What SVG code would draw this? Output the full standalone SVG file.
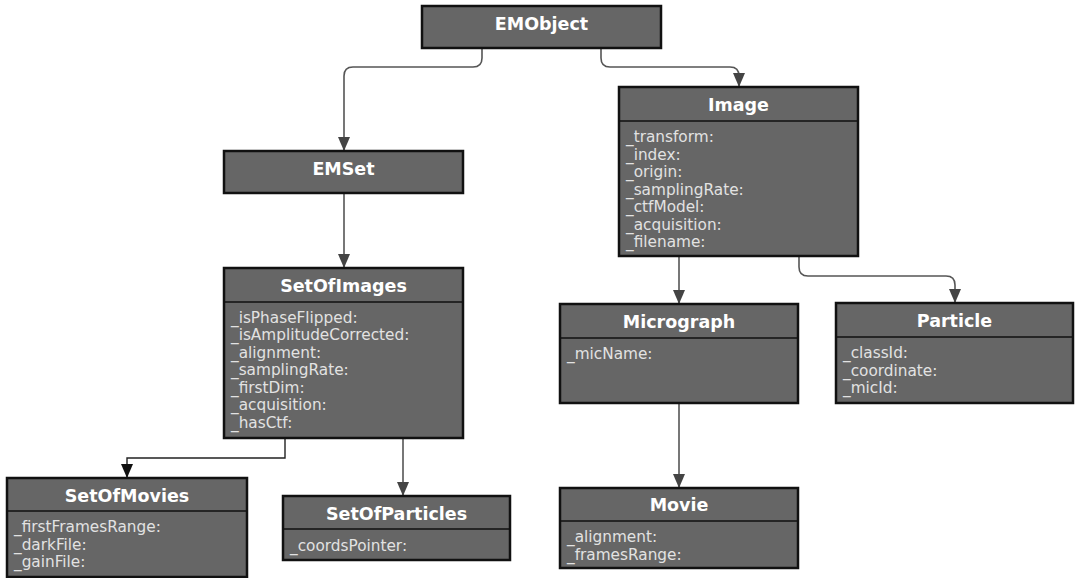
<svg xmlns="http://www.w3.org/2000/svg" width="1075" height="578" viewBox="0 0 1075 578">
<defs>
<marker id="arr" viewBox="0 0 14 12" refX="14" refY="6" markerWidth="14" markerHeight="12" markerUnits="userSpaceOnUse" orient="auto">
<path d="M0,0 L14,6 L0,12 Z" fill="#444"/>
</marker>
<marker id="arrk" viewBox="0 0 14 12" refX="14" refY="6" markerWidth="14" markerHeight="12" markerUnits="userSpaceOnUse" orient="auto">
<path d="M0,0 L14,6 L0,12 Z" fill="#111"/>
</marker>
<style>
.box{fill:#666;stroke:#111;stroke-width:2.5}
.div{stroke:#111;stroke-width:1.5}
.t{font-family:"DejaVu Sans",sans-serif;font-weight:bold;font-size:17.5px;fill:#fff;text-anchor:middle}
.a{font-family:"DejaVu Sans",sans-serif;font-size:15.3px;fill:#e2e2e2}
.c{fill:none;stroke:#555;stroke-width:1.6}
.ck{fill:none;stroke:#222;stroke-width:1.4}
</style>
</defs>
<rect width="1075" height="578" fill="#fff"/>
<g id="connectors">
<path class="c" d="M482,48 V58 Q482,67 473,67 H353 Q344,67 344,76 V151" marker-end="url(#arr)"/>
<path class="c" d="M601,48 V58 Q601,67 610,67 H730 Q739,67 739,76 V87" marker-end="url(#arr)"/>
<path class="c" d="M344,193 V268" marker-end="url(#arr)"/>
<path class="ck" d="M285,438 V458 H127 V478" marker-end="url(#arrk)"/>
<path class="c" d="M403,438 V496" marker-end="url(#arr)"/>
<path class="c" d="M679,256 V304" marker-end="url(#arr)"/>
<path class="c" d="M799,256 V267 Q799,276 808,276 H946 Q955,276 955,285 V303" marker-end="url(#arr)"/>
<path class="c" d="M679,403 V488" marker-end="url(#arr)"/>
</g>
<g id="EMObject">
<rect class="box" x="422" y="6" width="239" height="42"/>
<text class="t" x="541.5" y="30">EMObject</text>
</g>
<g id="Image">
<rect class="box" x="619" y="87" width="239" height="169"/>
<line class="div" x1="619" y1="121" x2="858" y2="121"/>
<text class="t" x="738.5" y="111">Image</text>
<text class="a" x="626" y="142">_transform:</text>
<text class="a" x="626" y="159.5">_index:</text>
<text class="a" x="626" y="177">_origin:</text>
<text class="a" x="626" y="194.5">_samplingRate:</text>
<text class="a" x="626" y="212">_ctfModel:</text>
<text class="a" x="626" y="229.5">_acquisition:</text>
<text class="a" x="626" y="247">_filename:</text>
</g>
<g id="EMSet">
<rect class="box" x="224" y="151" width="239" height="42"/>
<text class="t" x="343.5" y="175">EMSet</text>
</g>
<g id="SetOfImages">
<rect class="box" x="224" y="268" width="239" height="170"/>
<line class="div" x1="224" y1="302" x2="463" y2="302"/>
<text class="t" x="343.5" y="292">SetOfImages</text>
<text class="a" x="231" y="322.5">_isPhaseFlipped:</text>
<text class="a" x="231" y="340">_isAmplitudeCorrected:</text>
<text class="a" x="231" y="357.5">_alignment:</text>
<text class="a" x="231" y="375">_samplingRate:</text>
<text class="a" x="231" y="392.5">_firstDim:</text>
<text class="a" x="231" y="410">_acquisition:</text>
<text class="a" x="231" y="427.5">_hasCtf:</text>
</g>
<g id="SetOfMovies">
<rect class="box" x="7" y="478" width="240" height="99"/>
<line class="div" x1="7" y1="511" x2="247" y2="511"/>
<text class="t" x="127" y="502">SetOfMovies</text>
<text class="a" x="14" y="532">_firstFramesRange:</text>
<text class="a" x="14" y="549.5">_darkFile:</text>
<text class="a" x="14" y="567">_gainFile:</text>
</g>
<g id="SetOfParticles">
<rect class="box" x="283" y="496" width="227" height="64"/>
<line class="div" x1="283" y1="529" x2="510" y2="529"/>
<text class="t" x="396.5" y="520">SetOfParticles</text>
<text class="a" x="290" y="551">_coordsPointer:</text>
</g>
<g id="Micrograph">
<rect class="box" x="560" y="304" width="238" height="99"/>
<line class="div" x1="560" y1="338" x2="798" y2="338"/>
<text class="t" x="679" y="328">Micrograph</text>
<text class="a" x="567" y="359">_micName:</text>
</g>
<g id="Particle">
<rect class="box" x="836" y="303" width="237" height="100"/>
<line class="div" x1="836" y1="337" x2="1073" y2="337"/>
<text class="t" x="954.5" y="327">Particle</text>
<text class="a" x="843" y="358">_classId:</text>
<text class="a" x="843" y="375.5">_coordinate:</text>
<text class="a" x="843" y="393">_micId:</text>
</g>
<g id="Movie">
<rect class="box" x="560" y="488" width="238" height="80"/>
<line class="div" x1="560" y1="521" x2="798" y2="521"/>
<text class="t" x="679" y="511">Movie</text>
<text class="a" x="567" y="542">_alignment:</text>
<text class="a" x="567" y="559.5">_framesRange:</text>
</g>
</svg>
